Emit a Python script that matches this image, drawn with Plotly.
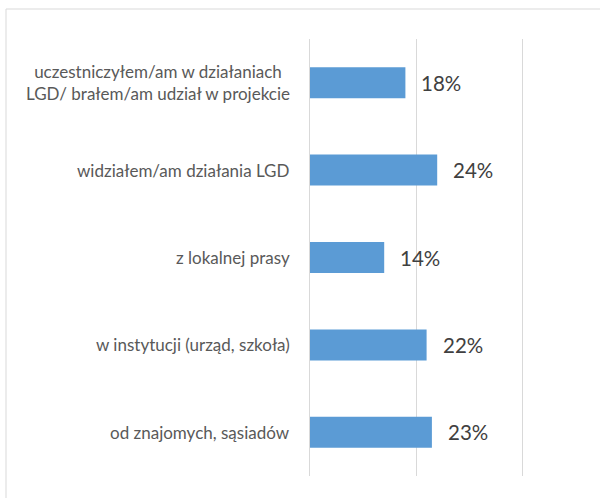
import plotly.graph_objects as go

categories = [
    "uczestniczyłem/am w działaniach<br>LGD/ brałem/am udział w projekcie",
    "widziałem/am działania LGD",
    "z lokalnej prasy",
    "w instytucji (urząd, szkoła)",
    "od znajomych, sąsiadów",
]
values = [18, 24, 14, 22, 23]
x_ticks = [0, 20, 40]

W, H = 600, 498
L, R, T, B = 310, 78, 39, 22
pw, ph = W - L - R, H - T - B

fig = go.Figure()
fig.add_trace(go.Bar(
    y=categories, x=values, orientation="h",
    marker=dict(color="#5B9BD5", line=dict(width=0)),
    hoverinfo="skip",
))

annotations = []
for c, v in zip(categories, values):
    annotations.append(dict(
        x=v, y=c, xref="x", yref="y", text=f"{v}%", showarrow=False,
        xanchor="left", yanchor="middle", xshift=14,
        font=dict(family="Lato", size=20.5, color="#404040"),
    ))
    annotations.append(dict(
        x=0, y=c, xref="paper", yref="y", text=c, showarrow=False,
        xanchor="right", yanchor="middle", xshift=-18, align="center",
        font=dict(family="Lato", size=17, color="#595959"),
    ))

def px_x(p):
    return (p - L) / pw

def px_y(p):
    return (H - B - p) / ph

fig.update_layout(
    width=W, height=H,
    margin=dict(l=L, r=R, t=T, b=B),
    paper_bgcolor="white", plot_bgcolor="white",
    showlegend=False,
    bargap=0.645,
    xaxis=dict(range=[0, 40], tickvals=x_ticks, showticklabels=False,
               showgrid=True, gridcolor="#d9d9d9", gridwidth=1,
               zeroline=False, showline=False, fixedrange=True),
    yaxis=dict(autorange="reversed", showticklabels=False, showgrid=False,
               zeroline=False, showline=True, mirror=True,
               linecolor="#d9d9d9", linewidth=1, fixedrange=True),
    annotations=annotations,
    shapes=[dict(type="rect", xref="paper", yref="paper",
                 x0=px_x(6), x1=px_x(640), y0=px_y(540), y1=px_y(9),
                 line=dict(color="#d9d9d9", width=1), layer="below")],
)

fig.write_html("out.html", config={"displayModeBar": False},
               post_script="document.body.style.margin='0';")
